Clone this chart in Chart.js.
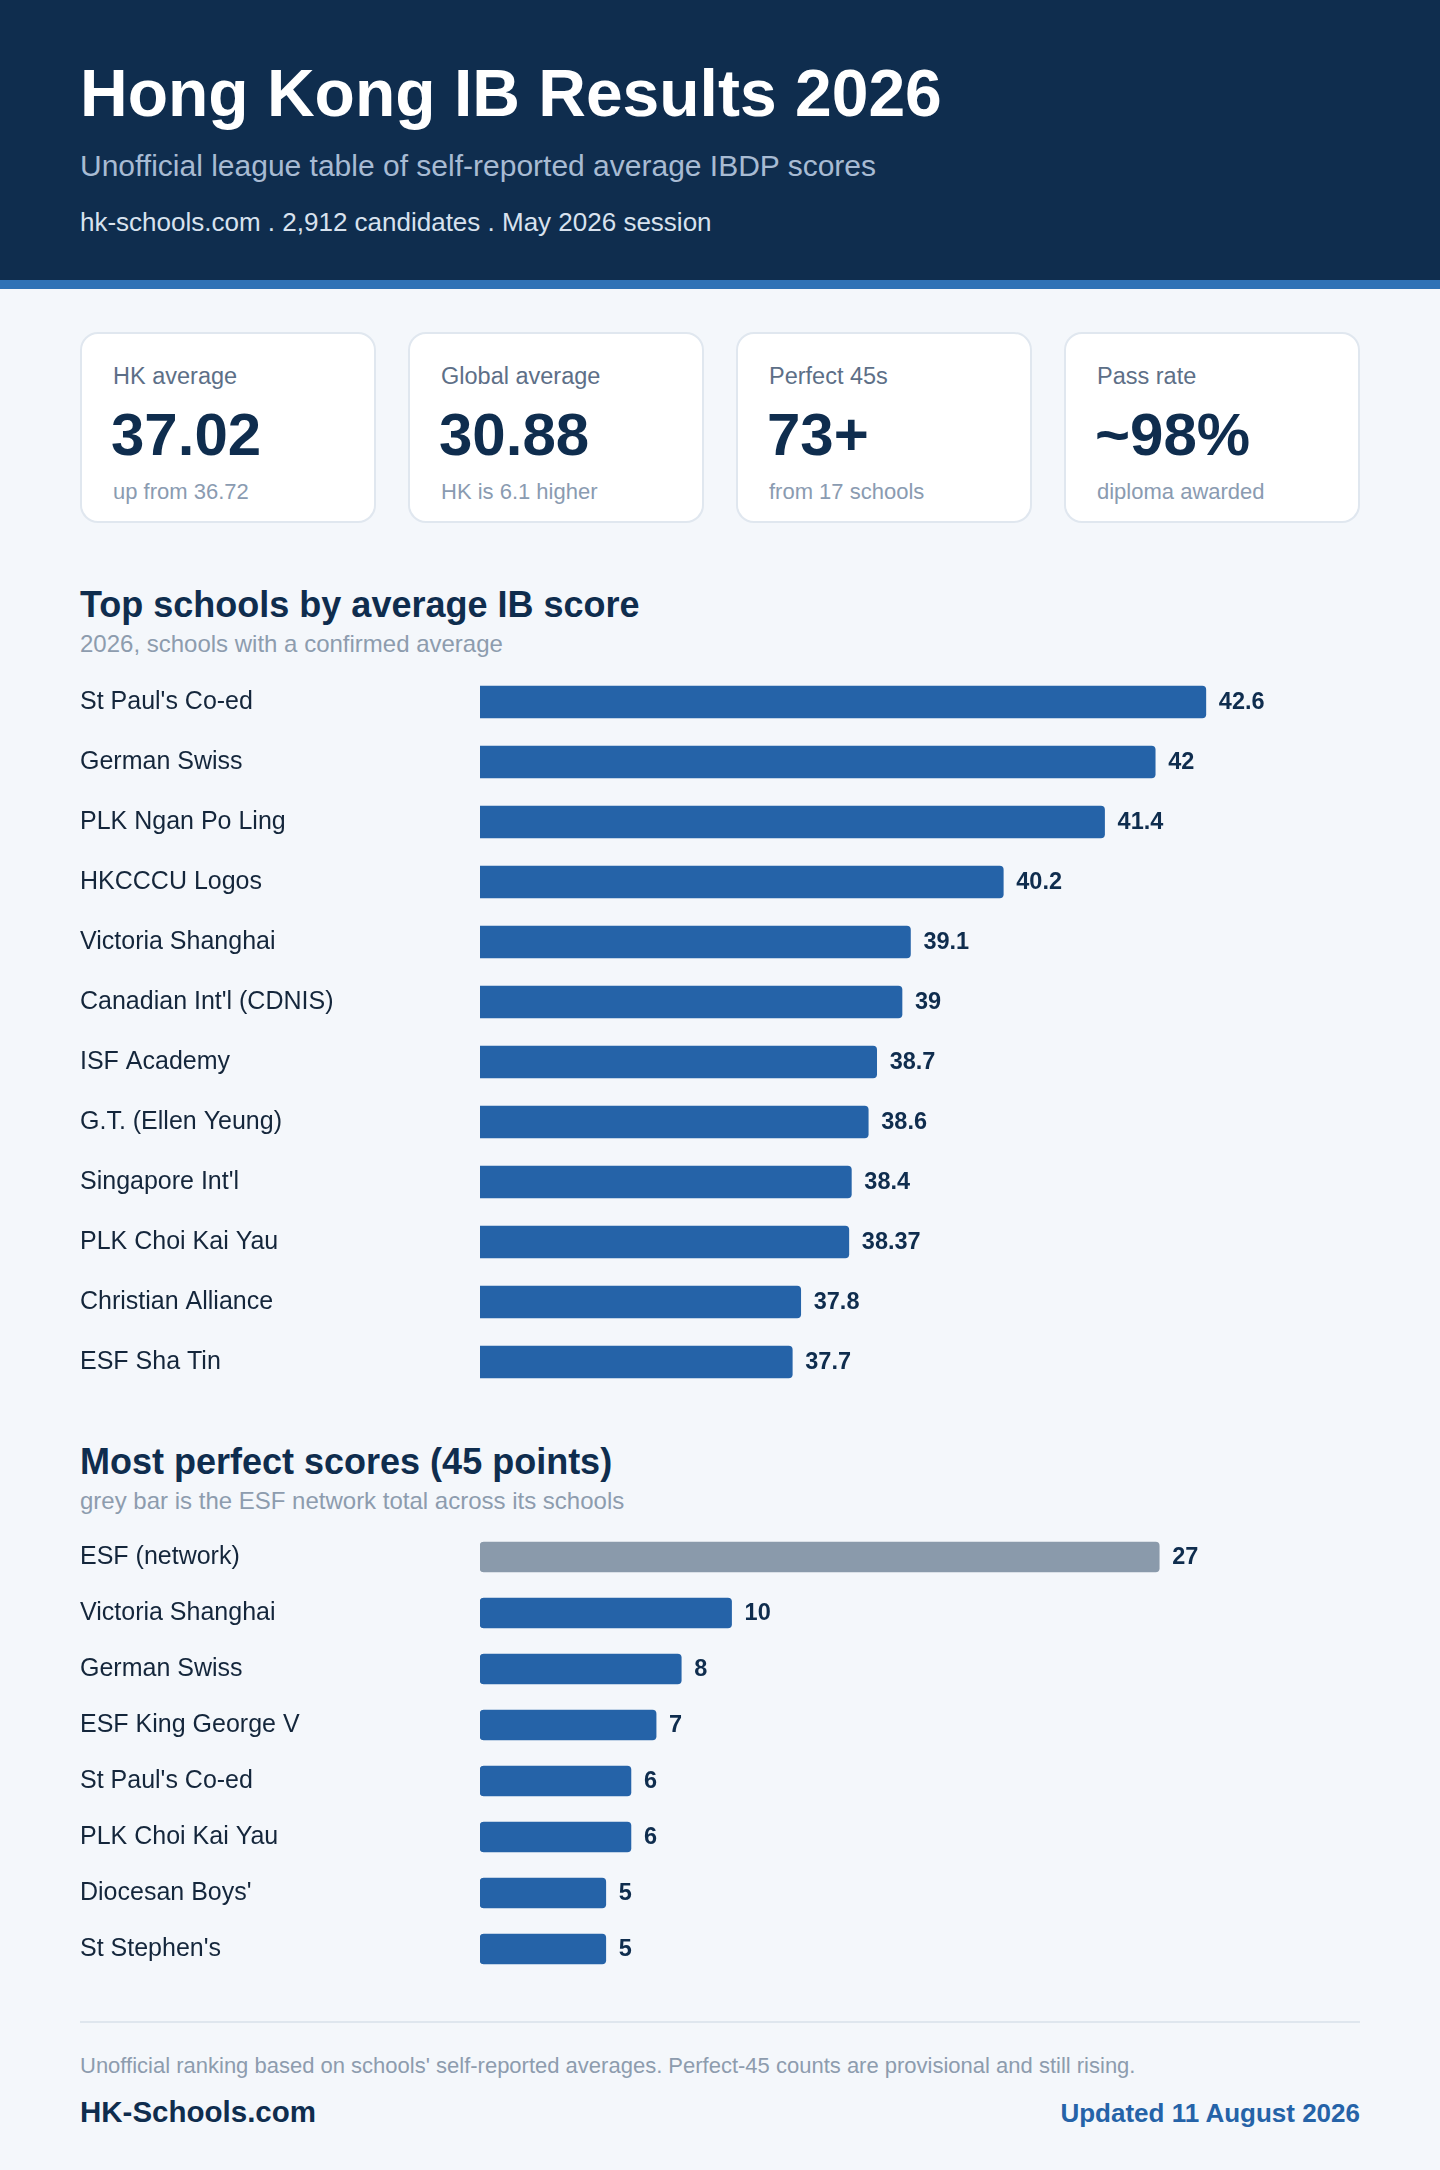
<!DOCTYPE html>
<html lang="en">
<head>
<meta charset="utf-8">
<title>Hong Kong IB Results 2026</title>
<script src="https://cdn.jsdelivr.net/npm/chart.js@4.4.1/dist/chart.umd.min.js"></script>
<style>
    html, body {
        margin: 0;
        padding: 0;
    }
    body {
        width: 1440px;
        height: 2170px;
        position: relative;
        overflow: hidden;
        background: #f4f7fb;
        font-family: "Liberation Sans", Arial, Helvetica, sans-serif;
    }
    .abs {
        position: absolute;
        white-space: nowrap;
    }
    .header {
        position: absolute;
        left: 0;
        top: 0;
        width: 1440px;
        height: 280px;
        background: #0f2d4e;
        border-bottom: 9px solid #2f72b6;
    }
    .title {
        left: 80px;
        top: 60px;
        font-size: 66px;
        line-height: 66px;
        font-weight: bold;
        color: #ffffff;
    }
    .subtitle {
        left: 80px;
        top: 151px;
        font-size: 30px;
        line-height: 30px;
        color: #a8bbd3;
    }
    .meta {
        left: 80px;
        top: 209px;
        font-size: 26px;
        line-height: 26px;
        color: #d8e2ee;
    }
    .card {
        position: absolute;
        top: 332px;
        width: 292px;
        height: 187px;
        background: #ffffff;
        border: 2px solid #e0e7ef;
        border-radius: 18px;
    }
    .card .label {
        left: 31px;
        top: 31px;
        font-size: 23.5px;
        line-height: 23.5px;
        color: #5d6f87;
    }
    .card .big {
        left: 29px;
        top: 71px;
        font-size: 60px;
        line-height: 60px;
        font-weight: bold;
        color: #0f2d4e;
    }
    .card .sub {
        left: 31px;
        top: 147px;
        font-size: 22px;
        line-height: 22px;
        color: #8a9bb1;
    }
    .section-title {
        left: 80px;
        font-size: 36px;
        line-height: 36px;
        font-weight: bold;
        color: #0f2d4e;
    }
    .section-sub {
        left: 80px;
        font-size: 24px;
        line-height: 24px;
        color: #8d9cae;
    }
    .chart-box {
        position: absolute;
        left: 80px;
        width: 1280px;
    }
    .divider {
        position: absolute;
        left: 80px;
        top: 2021px;
        width: 1280px;
        height: 2px;
        background: #dfe6ee;
    }
    .note {
        left: 80px;
        top: 2055px;
        font-size: 22px;
        line-height: 22px;
        color: #8d9cae;
    }
    .brand {
        left: 80px;
        top: 2097px;
        font-size: 29.5px;
        line-height: 29.5px;
        font-weight: bold;
        color: #0f2d4e;
    }
    .updated {
        right: 80px;
        top: 2100px;
        font-size: 26px;
        line-height: 26px;
        font-weight: bold;
        color: #2563a8;
    }
</style>
</head>
<body>

<div class="header">
    <div class="abs title">Hong Kong IB Results 2026</div>
    <div class="abs subtitle">Unofficial league table of self-reported average IBDP scores</div>
    <div class="abs meta">hk-schools.com . 2,912 candidates . May 2026 session</div>
</div>

<div class="card" style="left:80px">
    <div class="abs label">HK average</div>
    <div class="abs big">37.02</div>
    <div class="abs sub">up from 36.72</div>
</div>
<div class="card" style="left:408px">
    <div class="abs label">Global average</div>
    <div class="abs big">30.88</div>
    <div class="abs sub">HK is 6.1 higher</div>
</div>
<div class="card" style="left:736px">
    <div class="abs label">Perfect 45s</div>
    <div class="abs big">73+</div>
    <div class="abs sub">from 17 schools</div>
</div>
<div class="card" style="left:1064px">
    <div class="abs label">Pass rate</div>
    <div class="abs big">~98%</div>
    <div class="abs sub">diploma awarded</div>
</div>

<div class="abs section-title" style="top:587px">Top schools by average IB score</div>
<div class="abs section-sub" style="top:632px">2026, schools with a confirmed average</div>
<div class="chart-box" style="top:672px; height:720px">
    <canvas id="averages-chart"></canvas>
</div>

<div class="abs section-title" style="top:1444px">Most perfect scores (45 points)</div>
<div class="abs section-sub" style="top:1489px">grey bar is the ESF network total across its schools</div>
<div class="chart-box" style="top:1529px; height:448px">
    <canvas id="perfect-chart"></canvas>
</div>

<div class="divider"></div>
<div class="abs note">Unofficial ranking based on schools' self-reported averages. Perfect-45 counts are provisional and still rising.</div>
<div class="abs brand">HK-Schools.com</div>
<div class="abs updated">Updated 11 August 2026</div>

<script>
// Top schools by average IB score (2026)
const averageSchools = [
    "St Paul's Co-ed",
    "German Swiss",
    "PLK Ngan Po Ling",
    "HKCCCU Logos",
    "Victoria Shanghai",
    "Canadian Int'l (CDNIS)",
    "ISF Academy",
    "G.T. (Ellen Yeung)",
    "Singapore Int'l",
    "PLK Choi Kai Yau",
    "Christian Alliance",
    "ESF Sha Tin"
];
const averageScores = [42.6, 42, 41.4, 40.2, 39.1, 39, 38.7, 38.6, 38.4, 38.37, 37.8, 37.7];

// Most perfect scores (45 points) - first row is the ESF network total
const perfectSchools = [
    "ESF (network)",
    "Victoria Shanghai",
    "German Swiss",
    "ESF King George V",
    "St Paul's Co-ed",
    "PLK Choi Kai Yau",
    "Diocesan Boys'",
    "St Stephen's"
];
const perfectCounts = [27, 10, 8, 7, 6, 6, 5, 5];

const FONT = '"Liberation Sans", Arial, Helvetica, sans-serif';
const NAVY = '#0f2d4e';
const BAR_BLUE = '#2563a8';
const BAR_GREY = '#8a9aab';

// Draws the value just right of each bar
const valueLabels = {
    id: 'valueLabels',
    afterDatasetsDraw(chart) {
        const ctx = chart.ctx;
        const values = chart.data.datasets[0].data;
        const meta = chart.getDatasetMeta(0);
        ctx.save();
        ctx.font = 'bold 23.5px ' + FONT;
        ctx.fillStyle = NAVY;
        ctx.textAlign = 'left';
        ctx.textBaseline = 'middle';
        meta.data.forEach((bar, i) => {
            ctx.fillText(String(values[i]), bar.x + 13, bar.y + 1);
        });
        ctx.restore();
    }
};

// Shared options for the horizontal bar lists
function opcoesBarras(xMin, xMax) {
    return {
        indexAxis: 'y',
        responsive: true,
        maintainAspectRatio: false,
        animation: false,
        layout: {
            padding: { left: 0, right: 36, top: 0, bottom: 0 }
        },
        plugins: {
            legend: { display: false },
            tooltip: { enabled: false }
        },
        scales: {
            x: {
                display: false,
                min: xMin,
                max: xMax
            },
            y: {
                grid: { display: false },
                border: { display: false },
                ticks: {
                    autoSkip: false,
                    crossAlign: 'far',
                    padding: 0,
                    color: '#14263b',
                    font: { family: FONT, size: 25 }
                },
                afterFit(scale) {
                    // fixed label column, and no extra padding above/below the rows
                    scale.width = 400;
                    scale.paddingTop = 0;
                    scale.paddingBottom = 0;
                }
            }
        }
    };
}

function criarGraficoMedias() {
    const ctx = document.getElementById('averages-chart').getContext('2d');
    new Chart(ctx, {
        type: 'bar',
        data: {
            labels: averageSchools,
            datasets: [{
                data: averageScores,
                backgroundColor: BAR_BLUE,
                borderRadius: 4,
                borderSkipped: false,
                barThickness: 32
            }]
        },
        options: opcoesBarras(34, 44),
        plugins: [valueLabels]
    });
}

function criarGraficoPerfeitos() {
    const ctx = document.getElementById('perfect-chart').getContext('2d');
    new Chart(ctx, {
        type: 'bar',
        data: {
            labels: perfectSchools,
            datasets: [{
                data: perfectCounts,
                backgroundColor: perfectSchools.map((s, i) => i === 0 ? BAR_GREY : BAR_BLUE),
                borderRadius: 4,
                borderSkipped: false,
                barThickness: 30
            }]
        },
        options: opcoesBarras(0, 33.55),
        plugins: [valueLabels]
    });
}

criarGraficoMedias();
criarGraficoPerfeitos();
</script>
</body>
</html>
